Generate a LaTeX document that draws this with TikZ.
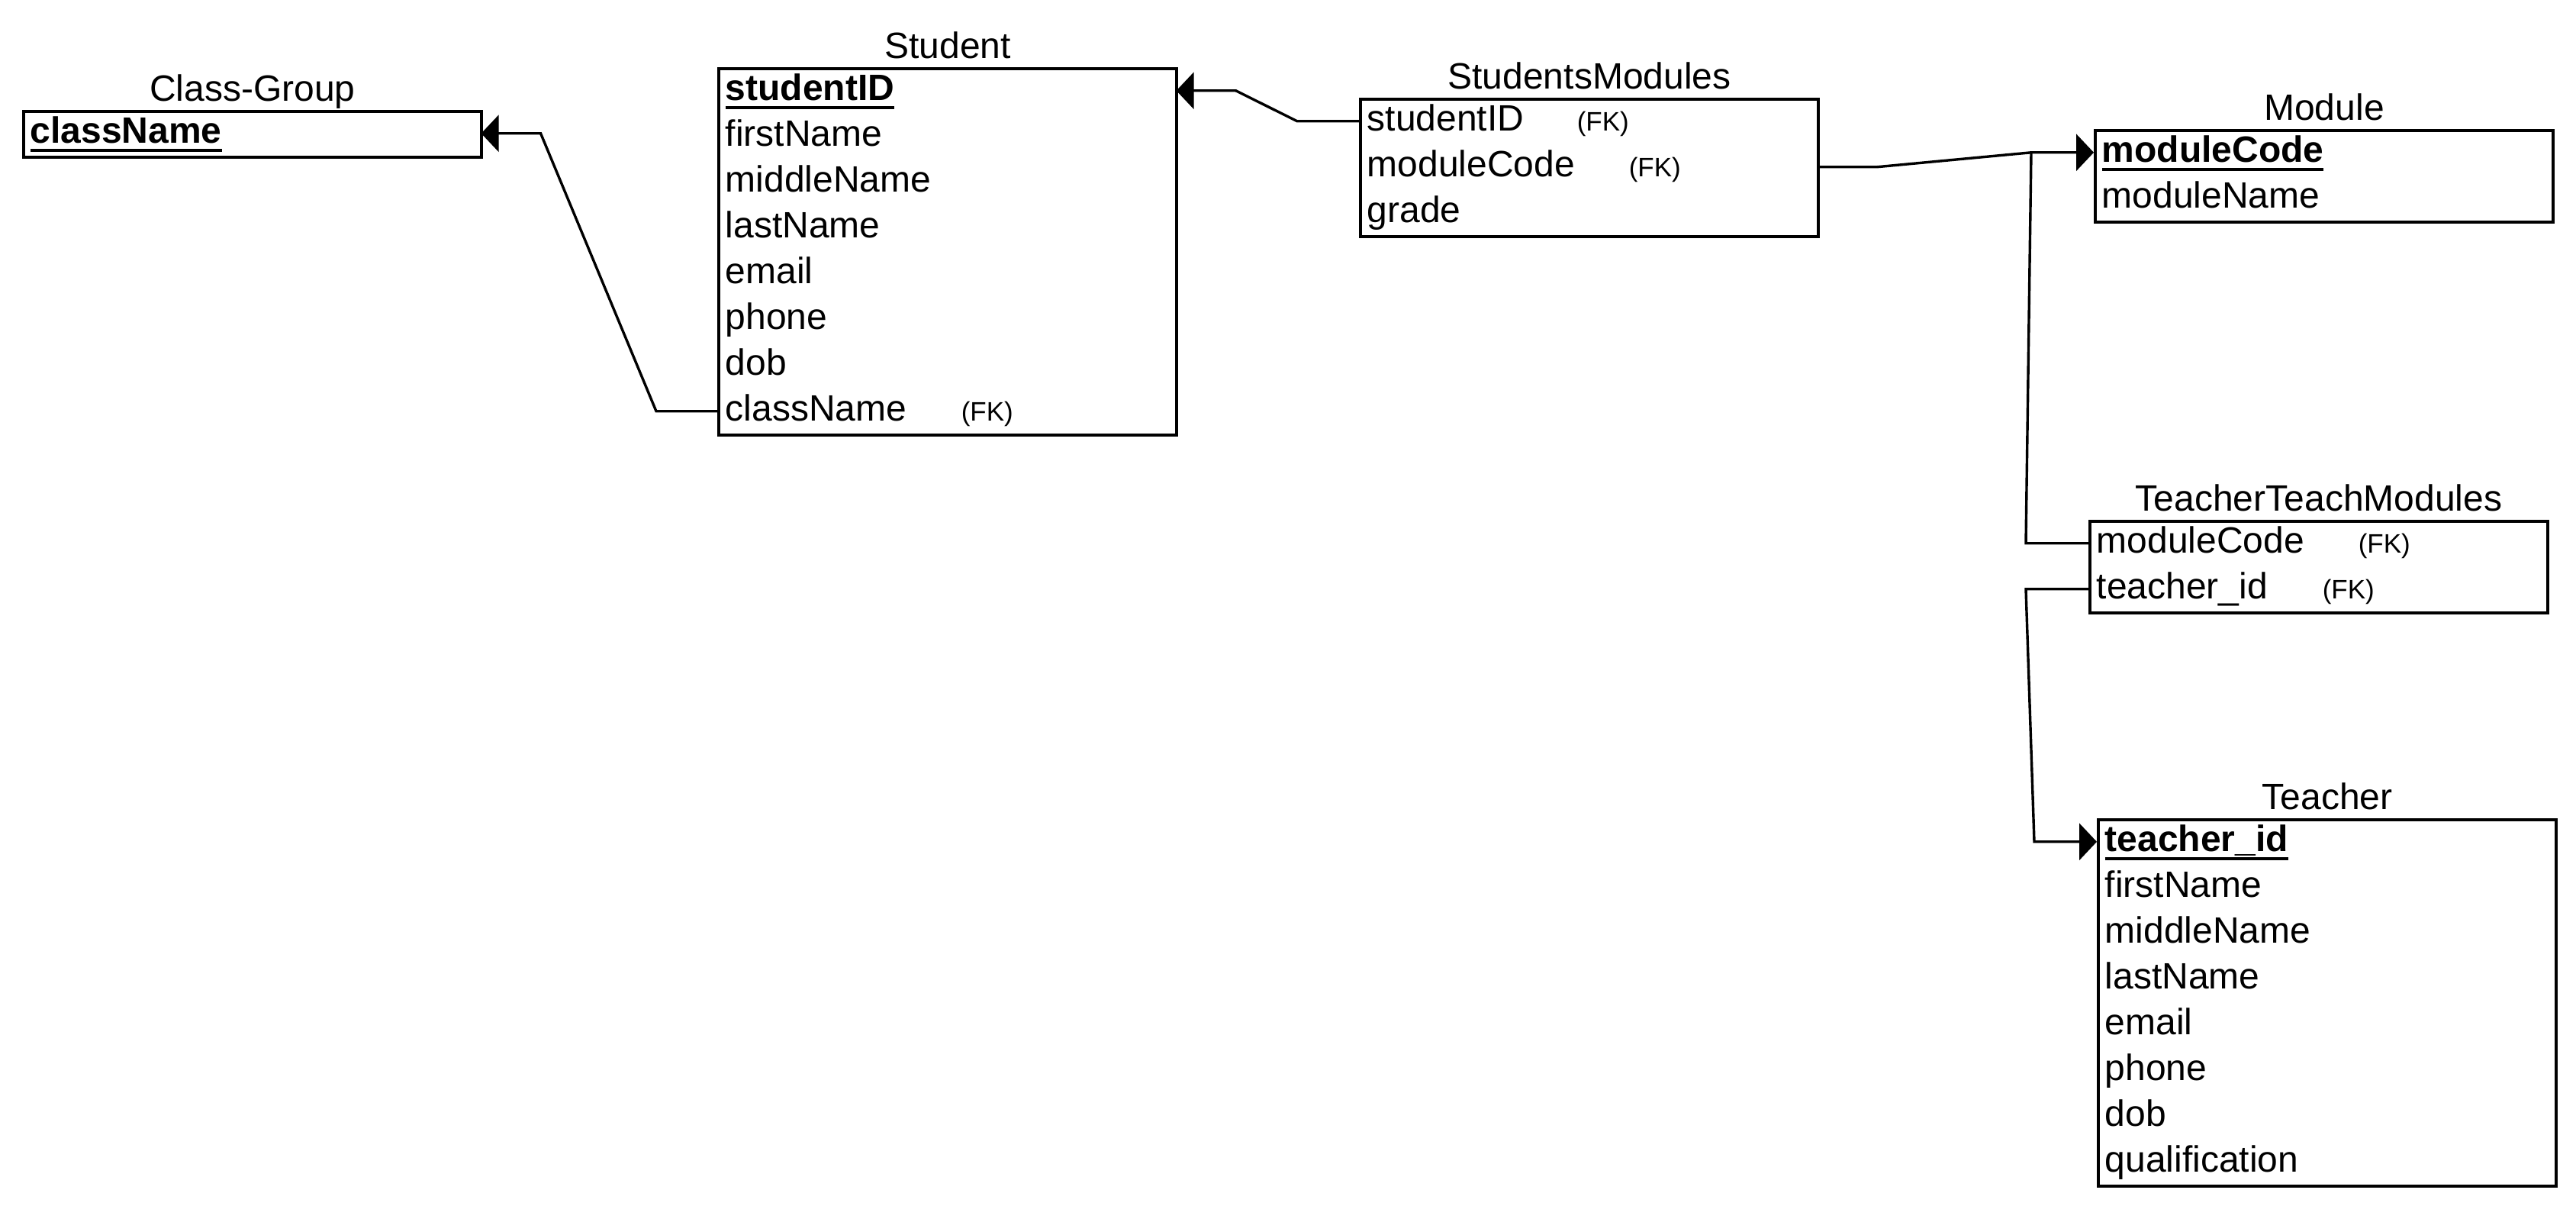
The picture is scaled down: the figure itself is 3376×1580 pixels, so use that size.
\documentclass[tikz,border=0pt]{standalone}
\usepackage{fontspec}
\setmainfont{Liberation Sans}
\usetikzlibrary{arrows.meta,calc}
\newcommand\pkey[1]{\setbox0\hbox{\bfseries #1}\rlap{\rule[-2.75pt]{\wd0}{1pt}}\box0}
\tikzset{
  tbl/.style={draw, line width=1pt, anchor=north west, minimum width=150pt, inner sep=0pt},
  rowbox/.style={anchor=north west, inner xsep=2.5pt, inner ysep=0pt, text width=145pt,
    align=left, text height=10.75pt, text depth=4.25pt, font=\fontsize{12}{14}\selectfont},
  ttl/.style={font=\fontsize{12}{14}\selectfont, inner sep=0pt, anchor=base},
  fk/.style={font=\fontsize{8.75}{10}\selectfont, inner sep=0pt, anchor=base west},
  conn/.style={line width=0.85pt, line join=miter},
  arr/.style={conn, -{Triangle[length=5.75pt,width=12pt]}}
}
\begin{document}
\begin{tikzpicture}[x=0.25pt,y=-0.25pt]
\fill[white] (0,0) rectangle (3376,1580);
\useasboundingbox (0,0) rectangle (3376,1580);

% Class-Group
\node[tbl, minimum height=15pt] (cg) at (29,144) {};
\node[ttl] (cg-t) at ($(cg.north)+(0,-11)$) {Class-Group};
\node[rowbox] (cg-r0) at (29,144) {\pkey{className}};

% Student
\node[tbl, minimum height=120pt] (stu) at (940,88) {};
\node[ttl] (stu-t) at ($(stu.north)+(0,-11)$) {Student};
\node[rowbox] (stu-r0) at (940,88) {\pkey{studentID}};
\foreach \t [count=\i] in {firstName,middleName,lastName,email,phone,dob,className}
  \node[rowbox] (stu-r\i) at (940,{88+60*\i}) {\t};
\node[fk] (stu-fk) at ($(stu-r7.base west)+(319,0)$) {(FK)};

% StudentsModules
\node[tbl, minimum height=45pt] (sm) at (1781,128) {};
\node[ttl] (sm-t) at ($(sm.north)+(0,-11)$) {StudentsModules};
\foreach \t [count=\i from 0] in {studentID,moduleCode,grade}
  \node[rowbox] (sm-r\i) at (1781,{128+60*\i}) {\t};
\node[fk] (sm-fk0) at ($(sm-r0.base west)+(285,0)$) {(FK)};
\node[fk] (sm-fk1) at ($(sm-r1.base west)+(353,0)$) {(FK)};

% Module
\node[tbl, minimum height=30pt] (mod) at (2744,169) {};
\node[ttl] (mod-t) at ($(mod.north)+(0,-11)$) {Module};
\node[rowbox] (mod-r0) at (2744,169) {\pkey{moduleCode}};
\node[rowbox] (mod-r1) at (2744,229) {moduleName};

% TeacherTeachModules
\node[tbl, minimum height=30pt] (ttm) at (2737,681) {};
\node[ttl] (ttm-t) at ($(ttm.north)+(0,-11)$) {TeacherTeachModules};
\node[rowbox] (ttm-r0) at (2737,681) {moduleCode};
\node[rowbox] (ttm-r1) at (2737,741) {teacher\_id};
\node[fk] (ttm-fk0) at ($(ttm-r0.base west)+(353,0)$) {(FK)};
\node[fk] (ttm-fk1) at ($(ttm-r1.base west)+(306,0)$) {(FK)};

% Teacher
\node[tbl, minimum height=120pt] (tea) at (2748,1072) {};
\node[ttl] (tea-t) at ($(tea.north)+(0,-11)$) {Teacher};
\node[rowbox] (tea-r0) at (2748,1072) {\pkey{teacher\_id}};
\foreach \t [count=\i] in {firstName,middleName,lastName,email,phone,dob,qualification}
  \node[rowbox] (tea-r\i) at (2748,{1072+60*\i}) {\t};

% Connectors
\draw[arr] (stu-r7.west) -- ++(-80,0) -- ($(cg-r0.east)+(78,0)$) -- (cg-r0.east);
\draw[arr] (sm-r0.west) -- ++(-81,0) -- ($(stu-r0.east)+(78,0)$) -- (stu-r0.east);
\coordinate (j1) at ($(mod-r0.west)+(-82,0)$);
\draw[arr] (sm-r1.east) -- ++(77,0) -- (j1) -- (mod-r0.west);
\draw[conn] (ttm-r0.west) -- ++(-82,0) -- (j1);
\draw[arr] (ttm-r1.west) -- ++(-82,0) -- ($(tea-r0.west)+(-82,0)$) -- (tea-r0.west);
\end{tikzpicture}
\end{document}
